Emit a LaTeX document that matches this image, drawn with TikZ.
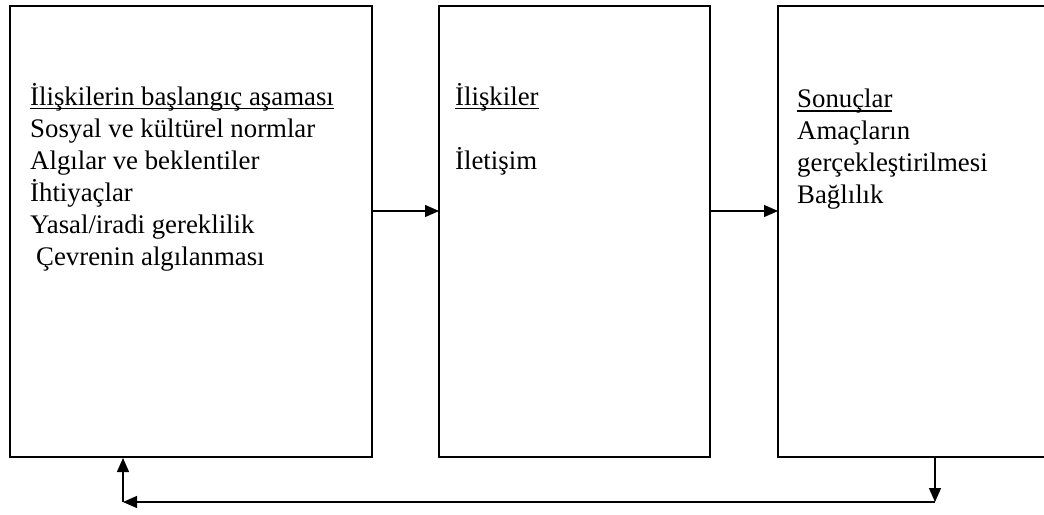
\documentclass[tikz,border=0pt]{standalone}
\usepackage{fontspec}
\setmainfont{Liberation Serif}
\usetikzlibrary{arrows.meta}
\newcommand\ulx[1]{\setbox0\hbox{#1}\rlap{\rule[-4pt]{\wd0}{1.8pt}}\box0}
\begin{document}
\begin{tikzpicture}[x=1pt,y=-1pt,
  panel/.style={draw=black,line width=1.6pt,inner sep=0pt},
  txt/.style={anchor=north west,inner sep=0pt,align=left,font=\fontsize{26.8}{32}\selectfont},
  conn/.style={line width=1.3pt,-{Triangle[length=14pt,width=12pt]}}]
\useasboundingbox (0,0) rectangle (1044,514);
\draw[panel] (10,6) rectangle (372,457);
\draw[panel] (439,6) rectangle (710,457);
\draw[panel] (778,6) rectangle (1060,457);
\coordinate (lr) at (372,211);
\coordinate (ml) at (439,211);
\coordinate (mr) at (710,211);
\coordinate (rl) at (778,211);
\coordinate (rb) at (935,457);
\coordinate (rd) at (935,502);
\coordinate (ld) at (123,502);
\coordinate (lb) at (123,458);
\node[txt] (t1) at (30,83) {\ulx{İlişkilerin başlangıç aşaması}\\Sosyal ve kültürel normlar\\Algılar ve beklentiler\\İhtiyaçlar\\Yasal/iradi gereklilik\\\hspace*{6pt}Çevrenin algılanması};
\node[txt] (t2) at (455,83) {\ulx{İlişkiler}};
\node[txt] (t3) at (455,147) {İletişim};
\node[txt] (t4) at (797,89) {\ulx{Sonuçlar}\\Amaçların\\gerçekleştirilmesi\\Bağlılık};
\draw[conn] (lr) -- (ml);
\draw[conn] (mr) -- (rl);
\draw[conn] (rb) -- (rd);
\draw[conn] (rd) -- (ld);
\draw[conn] (ld) -- (lb);
\end{tikzpicture}
\end{document}
